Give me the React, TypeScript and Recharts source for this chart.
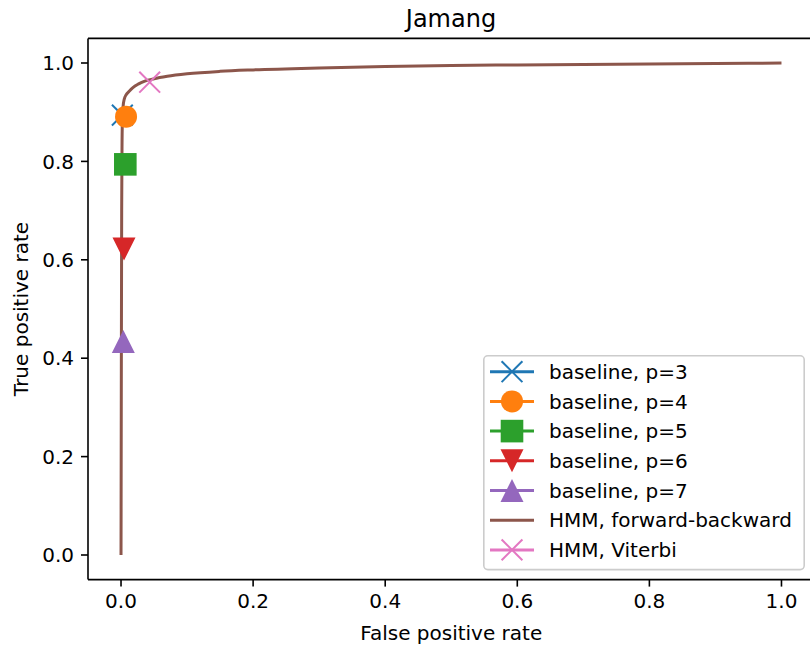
import React from 'react'
import { ComposedChart, Line, Scatter, XAxis, YAxis, Legend, ReferenceLine } from 'recharts'

// ROC curve for the HMM (forward-backward posteriors)
const hmmFpr = [0, 0.0005, 0.001, 0.0015, 0.002, 0.003, 0.005, 0.008, 0.012, 0.018, 0.026, 0.036, 0.05, 0.07, 0.1, 0.15, 0.2, 0.3, 0.4, 0.5, 0.6, 0.7, 0.8, 0.9, 1.0]
const hmmTpr = [0, 0.4, 0.7, 0.83, 0.88, 0.91, 0.927, 0.936, 0.942, 0.95, 0.957, 0.963, 0.968, 0.973, 0.978, 0.983, 0.986, 0.99, 0.993, 0.995, 0.996, 0.997, 0.998, 0.999, 1.0]

// single operating points
const baselineLabels = ['baseline, p=3', 'baseline, p=4', 'baseline, p=5', 'baseline, p=6', 'baseline, p=7']
const baselineFpr = [0.002, 0.0076, 0.0065, 0.0045, 0.0035]
const baselineTpr = [0.894, 0.891, 0.794, 0.622, 0.434]
const baselineColors = ['#1f77b4', '#ff7f0e', '#2ca02c', '#d62728', '#9467bd']
const baselineMarkers = ['x', 'circle', 'square', 'triangleDown', 'triangleUp']

const viterbiFpr = [0.0434]
const viterbiTpr = [0.961]

const ticks = [0, 0.2, 0.4, 0.6, 0.8, 1.0]

const hmmColor = '#8c564b'
const viterbiColor = '#e377c2'
const font = '"DejaVu Sans", sans-serif'

const hmmData = hmmFpr.map((x, i) => ({ x, y: hmmTpr[i] }))
const viterbiData = viterbiFpr.map((x, i) => ({ x, y: viterbiTpr[i] }))

function Marker({ kind, cx, cy, color }: { kind: string; cx: number; cy: number; color: string }) {
  if (kind === 'x') {
    const h = 10.4
    return (
      <g stroke={color} strokeWidth={2}>
        <line x1={cx - h} y1={cy - h} x2={cx + h} y2={cy + h} />
        <line x1={cx - h} y1={cy + h} x2={cx + h} y2={cy - h} />
      </g>
    )
  }
  if (kind === 'circle') return <circle cx={cx} cy={cy} r={11} fill={color} />
  if (kind === 'square') return <rect x={cx - 11.3} y={cy - 11.3} width={22.6} height={22.6} fill={color} />
  const h = 11.5
  if (kind === 'triangleDown')
    return <polygon points={`${cx - h},${cy - h} ${cx + h},${cy - h} ${cx},${cy + h}`} fill={color} />
  return <polygon points={`${cx - h},${cy + h} ${cx + h},${cy + h} ${cx},${cy - h}`} fill={color} />
}

const legendItems = [
  ...baselineLabels.map((label, i) => ({ label, color: baselineColors[i], marker: baselineMarkers[i] })),
  { label: 'HMM, forward-backward', color: hmmColor, marker: 'none' },
  { label: 'HMM, Viterbi', color: viterbiColor, marker: 'x' },
]

function LegendBox() {
  return (
    <svg width={322} height={216} style={{ display: 'block' }}>
      <rect x={0.8} y={0.8} width={320.4} height={213.8} rx={4} fill="rgba(255,255,255,0.8)" stroke="#cccccc" strokeWidth={1.6} />
      {legendItems.map((item, i) => {
        const y = 16.7 + i * 29.7
        return (
          <g key={item.label}>
            <line x1={7} y1={y} x2={51} y2={y} stroke={item.color} strokeWidth={3} />
            {item.marker !== 'none' && <Marker kind={item.marker} cx={29} cy={y} color={item.color} />}
            <text x={66} y={y} dy="0.36em" fontSize={20} fontFamily={font} fill="#000">
              {item.label}
            </text>
          </g>
        )
      })}
    </svg>
  )
}

export default function App() {
  const tickStyle = { fontSize: 20, fontFamily: font, fill: '#000' }
  const spine = { stroke: '#000', strokeWidth: 1.6 }
  return (
    <div style={{ position: 'fixed', left: 0, top: 0, width: 810, height: 647, overflow: 'hidden', background: '#fff' }}>
      <div
        style={{
          position: 'absolute', top: 5, left: 351, width: 200, textAlign: 'center',
          fontFamily: font, fontSize: 24, lineHeight: '28px', color: '#000', zIndex: 2,
        }}
      >
        Jamang
      </div>
      <ComposedChart width={810} height={647} margin={{ top: 38.4, right: -4.5, left: 0, bottom: 0 }}>
        <XAxis
          dataKey="x"
          type="number"
          domain={[-0.05, 1.05]}
          ticks={ticks}
          tickFormatter={(v: number) => v.toFixed(1)}
          height={67.4}
          axisLine={spine}
          tickSize={7}
          tickMargin={7}
          tickLine={spine}
          tick={tickStyle}
          label={{
            content: ({ viewBox }: any) => (
              <text x={viewBox.x + viewBox.width / 2} y={640} textAnchor="middle" fontSize={20} fontFamily={font} fill="#000">
                False positive rate
              </text>
            ),
          }}
        />
        <YAxis
          dataKey="y"
          type="number"
          domain={[-0.05, 1.05]}
          ticks={ticks}
          tickFormatter={(v: number) => v.toFixed(1)}
          width={88}
          axisLine={spine}
          tickSize={7}
          tickMargin={7}
          tickLine={spine}
          tick={tickStyle}
          label={{
            content: ({ viewBox }: any) => (
              <text
                x={28}
                y={viewBox.y + viewBox.height / 2}
                transform={`rotate(-90, 28, ${viewBox.y + viewBox.height / 2})`}
                textAnchor="middle"
                fontSize={20}
                fontFamily={font}
                fill="#000"
              >
                True positive rate
              </text>
            ),
          }}
        />
        <ReferenceLine y={1.05} stroke="#000" strokeWidth={1.6} ifOverflow="visible" />
        {baselineLabels.map((label, i) => (
          <Scatter
            key={label}
            name={label}
            data={[{ x: baselineFpr[i], y: baselineTpr[i] }]}
            fill={baselineColors[i]}
            isAnimationActive={false}
            shape={(p: any) => <Marker kind={baselineMarkers[i]} cx={p.cx} cy={p.cy} color={baselineColors[i]} />}
          />
        ))}
        <Line
          data={hmmData}
          dataKey="y"
          name="HMM, forward-backward"
          type="monotoneX"
          stroke={hmmColor}
          strokeWidth={3}
          dot={false}
          activeDot={false}
          isAnimationActive={false}
        />
        <Scatter
          name="HMM, Viterbi"
          data={viterbiData}
          fill={viterbiColor}
          isAnimationActive={false}
          shape={(p: any) => <Marker kind="x" cx={p.cx} cy={p.cy} color={viterbiColor} />}
        />
        <Legend
          layout="vertical"
          align="center"
          verticalAlign="middle"
          wrapperStyle={{ left: 483, top: 355, width: 322, height: 216 }}
          content={() => <LegendBox />}
        />
      </ComposedChart>
    </div>
  )
}
